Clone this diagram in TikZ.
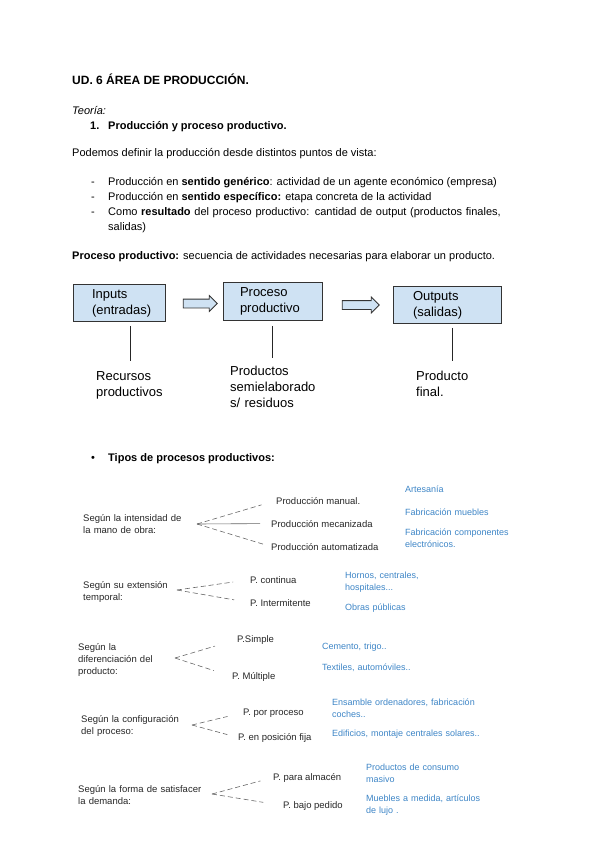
\documentclass[tikz,border=0pt]{standalone}
\usepackage{fontspec}
\setmainfont{Liberation Sans}
\usetikzlibrary{shapes.arrows}
\definecolor{boxblue}{HTML}{CFE2F3}
\definecolor{noteblue}{HTML}{3D85C6}
\begin{document}
\begin{tikzpicture}[x=1pt, y=-1pt,
  body/.style={anchor=base west, inner sep=0pt, font=\fontsize{11}{15}\selectfont},
  procbox/.style={draw=black!80, line width=0.8pt, fill=boxblue, align=left, font=\fontsize{13}{16}\selectfont},
  blockarrow/.style={single arrow, draw=black!80, line width=0.8pt, fill=boxblue, inner sep=4pt, minimum width=15pt, single arrow head extend=3.5pt},
  proclabel/.style={anchor=base west, inner sep=0pt, align=left, font=\fontsize{13}{16}\selectfont},
  stem/.style={draw=black!85, line width=0.8pt},
  crit/.style={anchor=base west, inner sep=0pt, align=left, text width=6cm, font=\fontsize{9.5}{12}\selectfont, text=black!85},
  kind/.style={anchor=base west, inner sep=0pt, font=\fontsize{9.5}{12}\selectfont, text=black!85},
  example/.style={anchor=base west, inner sep=0pt, align=left, text width=8cm, font=\fontsize{9}{12}\selectfont, text=noteblue},
  branch/.style={draw=black!60, line width=0.6pt, dash pattern=on 5pt off 3pt}]

  \useasboundingbox (0,0) rectangle (600,848);

  \node[body, font=\fontsize{12}{15}\selectfont] (title) at (72,84.5) {\textbf{UD. 6 ÁREA DE PRODUCCIÓN.}};
  \node[body] (teoria) at (72,114.5) {\textit{Teoría:}};
  \node[body] (num) at (90,129.5) {\textbf{1.}};
  \node[body] (sec) at (108,129.5) {\textbf{Producción y proceso productivo.}};
  \node[body] (intro) at (72,156.5) {Podemos definir la producción desde distintos puntos de vista:};
  \node[body] (d1) at (91,185.5) {-};
  \node[body] (l1) at (108,185.5) {Producción en \textbf{sentido genérico}: actividad de un agente económico (empresa)};
  \node[body] (d2) at (91,200.5) {-};
  \node[body] (l2) at (108,200.5) {Producción en \textbf{sentido específico:} etapa concreta de la actividad};
  \node[body] (d3) at (91,215.5) {-};
  \node[body, align=left, text width=420pt] (l3) at (108,215.5) {Como \textbf{resultado} del proceso productivo: cantidad de output (productos finales,\\salidas)};
  \node[body] (def) at (72,259.5) {\textbf{Proceso productivo:} secuencia de actividades necesarias para elaborar un producto.};

  \node[procbox, text width=54pt, inner xsep=19pt, minimum height=37pt] (inputs) at (119,303) {Inputs\\(entradas)};
  \node[procbox, text width=65pt, inner xsep=17pt, minimum height=38pt] (proceso) at (272.5,301.5) {Proceso\\productivo};
  \node[procbox, text width=68pt, inner xsep=20pt, minimum height=37pt] (outputs) at (447,305) {Outputs\\(salidas)};
  \node[blockarrow, minimum height=34pt] (arr1) at (198,303.5) {};
  \node[blockarrow, minimum height=37pt] (arr2) at (358.5,305) {};

  \node[proclabel, text width=68pt] (recursos) at (96,380) {Recursos\\productivos};
  \node[proclabel, text width=84pt] (semi) at (230,375) {Productos\\semielaborado\\s/ residuos};
  \node[proclabel, text width=72pt] (final) at (416,380) {Producto\\final.};
  \draw[stem, shorten <=4pt, shorten >=10pt] (recursos.north |- inputs.south) -- (recursos.north);
  \draw[stem, shorten <=5pt, shorten >=7pt] (semi.north |- proceso.south) -- (semi.north);
  \draw[stem, shorten <=4pt, shorten >=9pt] (final.north |- outputs.south) -- (final.north);

  \node[body] (dot) at (91,461.5) {\textbullet};
  \node[body] (tipos) at (108,461.5) {\textbf{Tipos de procesos productivos:}};

  \node[crit] (mano) at (83,521) {Según la intensidad de\\la mano de obra:};
  \coordinate (o1) at (197,524);
  \node[kind] (pman) at (276,504) {Producción manual.};
  \node[kind] (pmec) at (271,527) {Producción mecanizada};
  \node[kind] (paut) at (271,550) {Producción automatizada};
  \draw[branch, shorten >=15pt] (o1) -- (pman.west);
  \draw[branch, solid, shorten >=11pt] (o1) -- (pmec.west);
  \draw[branch, shorten >=8pt] (o1) -- (paut.west);
  \node[example] (eman) at (405,492) {Artesanía};
  \node[example] (emec) at (405,515) {Fabricación muebles};
  \node[example] (eaut) at (405,535) {Fabricación componentes\\electrónicos.};

  \node[crit] (temp) at (83,588) {Según su extensión\\temporal:};
  \coordinate (o2) at (177,590);
  \node[kind] (pcon) at (250,583) {P. continua};
  \node[kind] (pint) at (250,606) {P. Intermitente};
  \draw[branch, shorten >=17pt] (o2) -- (pcon.west);
  \draw[branch, shorten >=16pt] (o2) -- (pint.west);
  \node[example] (econ) at (345,578) {Hornos, centrales,\\hospitales...};
  \node[example] (eint) at (345,610) {Obras públicas};

  \node[crit] (dif) at (78,650) {Según la\\diferenciación del\\producto:};
  \coordinate (o3) at (175,658);
  \node[kind] (psim) at (237,642) {P.Simple};
  \node[kind] (pmul) at (232,679) {P. Múltiple};
  \draw[branch, shorten >=23pt] (o3) -- (psim.west);
  \draw[branch, shorten >=19pt] (o3) -- (pmul.west);
  \node[example] (esim) at (322,649) {Cemento, trigo..};
  \node[example] (emul) at (322,670) {Textiles, automóviles..};

  \node[crit] (conf) at (81,722) {Según la configuración\\del proceso:};
  \coordinate (o4) at (192,725);
  \node[kind] (ppro) at (243,715) {P. por proceso};
  \node[kind] (pfij) at (238,740) {P. en posición fija};
  \draw[branch, shorten >=16pt] (o4) -- (ppro.west);
  \draw[branch, shorten >=11pt] (o4) -- (pfij.west);
  \node[example] (epro) at (332,705) {Ensamble ordenadores, fabricación\\coches..};
  \node[example] (efij) at (332,736) {Edificios, montaje centrales solares..};

  \node[crit] (dem) at (78,792) {Según la forma de satisfacer\\la demanda:};
  \coordinate (o5) at (212,794);
  \node[kind] (palm) at (273,780) {P. para almacén};
  \node[kind] (pped) at (283,808) {P. bajo pedido};
  \draw[branch, shorten >=13pt] (o5) -- (palm.west);
  \draw[branch, shorten >=20pt] (o5) -- (pped.west);
  \node[example] (ealm) at (366,770) {Productos de consumo\\masivo};
  \node[example] (eped) at (366,801) {Muebles a medida, artículos\\de lujo .};

\end{tikzpicture}
\end{document}
